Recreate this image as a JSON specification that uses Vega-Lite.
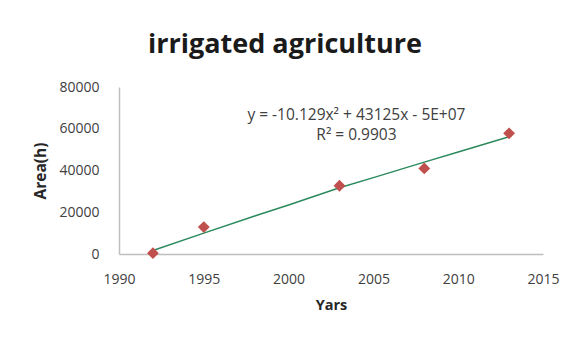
{
  "$schema": "https://vega.github.io/schema/vega-lite/v6.json",
  "width": 424,
  "height": 167,
  "autosize": "none",
  "padding": {"left": 119, "top": 87, "right": 31, "bottom": 84},
  "background": "white",
  "config": {"view": {"stroke": null}, "font": "Open Sans"},
  "title": {"text": "irrigated agriculture", "fontSize": 27, "fontWeight": "bold", "color": "#1a1a1a", "anchor": "middle", "dx": -46, "offset": 21, "font": "Open Sans"},
  "datasets": {
    "points": [
      {"year": 1992, "area": 400},
      {"year": 1995, "area": 12900},
      {"year": 2003, "area": 32700},
      {"year": 2008, "area": 41000},
      {"year": 2013, "area": 57800}
    ],
    "trend": [
      {"year": 1992, "area": 1700},
      {"year": 1995, "area": 10000},
      {"year": 1998, "area": 18200},
      {"year": 2000, "area": 23500},
      {"year": 2003, "area": 31700},
      {"year": 2005, "area": 36600},
      {"year": 2008, "area": 44000},
      {"year": 2010, "area": 48900},
      {"year": 2013, "area": 56200}
    ]
  },
  "encoding": {
    "x": {"type": "quantitative", "scale": {"domain": [1990, 2015], "nice": false, "zero": false},
      "axis": {"values": [1990, 1995, 2000, 2005, 2010, 2015], "format": "d", "grid": false, "ticks": false, "labelFlush": false, "domainColor": "#bfbfbf", "domainWidth": 1.5, "labelFontSize": 14, "labelColor": "#404040", "labelPadding": 18, "title": "Yars", "titleFontSize": 14.5, "titleFontWeight": "bold", "titleColor": "#262626", "titlePadding": 12}},
    "y": {"type": "quantitative", "scale": {"domain": [0, 80000], "nice": false},
      "axis": {"values": [0, 20000, 40000, 60000, 80000], "format": "d", "grid": false, "ticks": false, "domainColor": "#bfbfbf", "domainWidth": 1.5, "labelFontSize": 14, "labelColor": "#404040", "labelPadding": 20, "title": "Area(h)", "titleFontSize": 15.5, "titleFontWeight": "bold", "titleColor": "#262626", "titlePadding": 10}}
  },
  "layer": [
    {
      "data": {"name": "trend"},
      "mark": {"type": "line", "color": "#2b8a5c", "strokeWidth": 1.5},
      "encoding": {"x": {"field": "year", "type": "quantitative"}, "y": {"field": "area", "type": "quantitative"}}
    },
    {
      "data": {"name": "points"},
      "mark": {"type": "point", "shape": "diamond", "filled": true, "color": "#c0504d", "opacity": 1, "size": 140},
      "encoding": {"x": {"field": "year", "type": "quantitative"}, "y": {"field": "area", "type": "quantitative"}}
    },
    {
      "data": {"values": [{}]},
      "mark": {"type": "text", "text": ["y = -10.129x² + 43125x - 5E+07", "R² = 0.9903"], "lineHeight": 20, "fontSize": 15.5, "color": "#404040", "align": "center", "baseline": "middle"},
      "encoding": {"x": {"datum": 2004}, "y": {"datum": 66600}}
    }
  ]
}
